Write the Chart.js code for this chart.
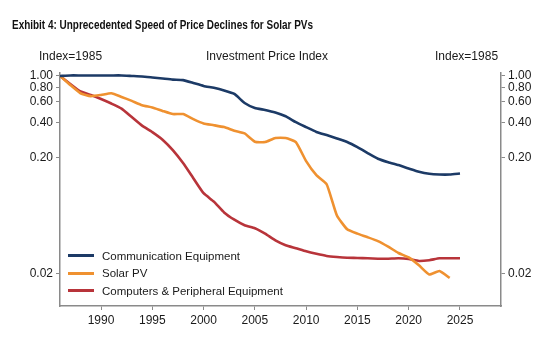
<!DOCTYPE html>
<html>
<head>
<meta charset="utf-8">
<script src="https://cdn.jsdelivr.net/npm/chart.js@4/dist/chart.umd.min.js"></script>
<style>
  html, body { margin: 0; padding: 0; background: #fff; }
  #wrap { position: relative; width: 546px; height: 361px; font-family: "Liberation Sans", Arial, sans-serif; color: #1a1a1a; }
  #c { position: absolute; left: 0; top: 0; }
  .t { position: absolute; white-space: nowrap; }
  #title { left: 12px; top: 18px; font-family: "Liberation Sans", Arial, sans-serif; font-weight: bold; font-size: 12.5px; color: #111; transform-origin: 0 0; }
  #hl { left: 39px; top: 49px; font-size: 12px; }
  #hc { left: 0; width: 534px; text-align: center; top: 49px; font-size: 12px; }
  #hr { left: 435px; top: 49px; font-size: 12px; }
  #legend { position: absolute; left: 68px; top: 247px; font-size: 11.5px; }
  .li { height: 17.5px; display: flex; align-items: center; }
  .sw { width: 26px; height: 3px; margin-right: 8px; }
</style>
</head>
<body>
<div id="wrap">
  <canvas id="c" width="546" height="361"></canvas>
  <div class="t" id="title">Exhibit 4: Unprecedented Speed of Price Declines for Solar PVs</div>
  <div class="t" id="hl">Index=1985</div>
  <div class="t" id="hc">Investment Price Index</div>
  <div class="t" id="hr">Index=1985</div>
  <div id="legend"></div>
</div>
<script>
const years = [1986,1987,1988,1989,1990,1991,1992,1993,1994,1995,1996,1997,1998,1999,2000,2001,2002,2003,2004,2005,2006,2007,2008,2009,2010,2011,2012,2013,2014,2015,2016,2017,2018,2019,2020,2021,2022,2023,2024,2025];

const communicationEquipment = [1.0,1.01,1.01,1.01,1.01,1.01,1.01,1.0,0.99,0.97,0.95,0.93,0.92,0.87,0.82,0.79,0.75,0.70,0.585,0.53,0.51,0.485,0.45,0.40,0.363,0.33,0.31,0.29,0.27,0.244,0.217,0.194,0.181,0.171,0.16,0.15,0.144,0.142,0.142,0.145];

const solarPV = [1.0,0.836,0.71,0.67,0.686,0.71,0.66,0.61,0.56,0.535,0.50,0.47,0.47,0.425,0.39,0.377,0.363,0.338,0.32,0.272,0.27,0.293,0.293,0.27,0.185,0.14,0.117,0.063,0.048,0.044,0.041,0.038,0.034,0.030,0.0275,0.0235,0.0196,0.021,0.0183,null];

const computersPeripheral = [1.0,0.853,0.735,0.686,0.633,0.579,0.524,0.443,0.374,0.329,0.283,0.23,0.178,0.132,0.098,0.083,0.067,0.058,0.052,0.049,0.044,0.0385,0.035,0.033,0.031,0.0295,0.0283,0.0277,0.0273,0.0272,0.027,0.0268,0.0268,0.027,0.0266,0.0256,0.026,0.027,0.027,0.027];

const yTicks = [0.02, 0.2, 0.4, 0.6, 0.8, 1.0];
const xTicks = [1990, 1995, 2000, 2005, 2010, 2015, 2020, 2025];

const seriesNames = ["Communication Equipment", "Solar PV", "Computers & Peripheral Equipment"];
const seriesColors = ["#1c3a66", "#ef9130", "#b8343a"];
const seriesData = [communicationEquipment, solarPV, computersPeripheral];

const datasets = seriesData.map((arr, i) => ({
  label: seriesNames[i],
  data: years.map((y, k) => ({ x: y, y: arr[k] })).filter(p => p.y !== null),
  borderColor: seriesColors[i],
  backgroundColor: seriesColors[i],
  borderWidth: 2.6,
  pointRadius: 0,
  tension: 0.15,
  fill: false
}));

const axisColor = "#8a8a8a";
const tickFont = { family: "'Liberation Sans', Arial, sans-serif", size: 12 };

const yAxisBase = (pos) => ({
  type: "logarithmic",
  position: pos,
  min: 0.0105,
  max: 1.06,
  afterBuildTicks: (s) => { s.ticks = yTicks.map(v => ({ value: v })); },
  ticks: {
    color: "#1a1a1a",
    font: tickFont,
    padding: 3,
    autoSkip: false,
    callback: (v) => Number(v).toFixed(2)
  },
  grid: { drawOnChartArea: false, drawTicks: true, tickLength: 4, color: axisColor },
  border: { display: true, color: axisColor, width: 1.5 }
});

const yLeft = yAxisBase("left");
yLeft.afterFit = (s) => { s.width = 60; };
const yRight = yAxisBase("right");
yRight.afterFit = (s) => { s.width = 45; };

new Chart(document.getElementById("c"), {
  type: "line",
  data: { datasets },
  options: {
    responsive: false,
    devicePixelRatio: 1,
    animation: false,
    layout: { padding: { top: 73, left: 0, right: 0, bottom: 0 } },
    plugins: { legend: { display: false }, title: { display: false }, tooltip: { enabled: false } },
    scales: {
      x: {
        type: "linear",
        min: 1986,
        max: 2029,
        afterBuildTicks: (s) => { s.ticks = xTicks.map(v => ({ value: v })); },
        afterFit: (s) => { s.height = 55; },
        ticks: { color: "#1a1a1a", font: tickFont, padding: 3, callback: (v) => String(v) },
        grid: { drawOnChartArea: false, drawTicks: true, tickLength: 4, color: axisColor },
        border: { display: true, color: axisColor, width: 1.5 }
      },
      y: yLeft,
      y2: yRight
    }
  }
});

const lg = document.getElementById("legend");
seriesNames.forEach((n, i) => {
  const d = document.createElement("div");
  d.className = "li";
  const sw = document.createElement("span");
  sw.className = "sw";
  sw.style.background = seriesColors[i];
  const tx = document.createElement("span");
  tx.textContent = n;
  d.appendChild(sw); d.appendChild(tx);
  lg.appendChild(d);
});

const title = document.getElementById("title");
const tw = title.getBoundingClientRect().width;
if (tw > 0) title.style.transform = "scaleX(" + (301 / tw) + ")";
</script>
</body>
</html>
